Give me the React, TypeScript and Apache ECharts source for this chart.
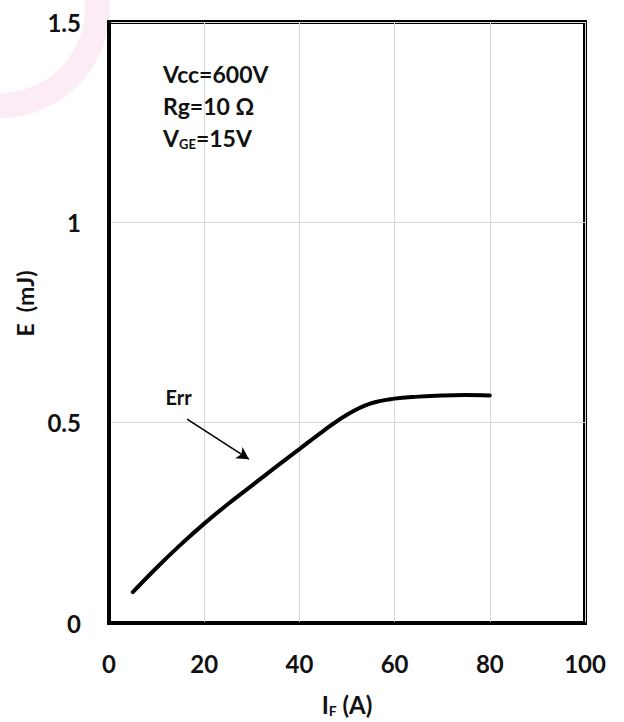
import React, { useEffect, useRef } from "react";
import * as echarts from "echarts";

const currentIF = [5, 10, 15, 20, 25, 30, 35, 40, 45, 50, 55, 60, 65, 70, 75, 80];
const errEnergy = [0.077, 0.138, 0.195, 0.248, 0.297, 0.343, 0.389, 0.434, 0.479, 0.52, 0.548, 0.56, 0.565, 0.568, 0.569, 0.568];
const xTicks = [0, 20, 40, 60, 80, 100];
const yTicks = [0, 0.5, 1, 1.5];
const arrowStart = [16.4, 0.509];
const arrowEnd = [29.4, 0.409];
const errLabelPos = [14.6, 0.564];
const conditions = ["Vcc=600V", "Rg=10 Ω", "VGE=15V"];

const FONT = "Lato, 'Open Sans', 'DejaVu Sans', sans-serif";

export default function App() {
  const ref = useRef<HTMLDivElement>(null);
  useEffect(() => {
    if (!ref.current) return;
    const chart = echarts.init(ref.current, undefined, { renderer: "svg" });
    const seriesData = currentIF.map((x, i) => [x, errEnergy[i]]);
    chart.setOption({
      animation: false,
      backgroundColor: "#ffffff",
      textStyle: { fontFamily: FONT },
      grid: {
        left: 109,
        right: 39,
        top: 22,
        bottom: 99,
        show: true,
        borderColor: "#000",
        borderWidth: 4,
        backgroundColor: "transparent",
      },
      xAxis: {
        type: "value",
        min: xTicks[0],
        max: xTicks[xTicks.length - 1],
        interval: 20,
        name: "{m|I}{s|F}{m| (A)}",
        nameLocation: "middle",
        nameGap: 68,
        nameTextStyle: {
          rich: {
            m: { fontSize: 24, fontWeight: "bold", color: "#111", fontFamily: FONT },
            s: { fontSize: 14, fontWeight: "bold", color: "#111", fontFamily: FONT, verticalAlign: "bottom", padding: [12, 0, 0, 0] },
          },
        },
        axisLine: { show: true, lineStyle: { color: "#000", width: 3 } },
        axisTick: { show: false },
        axisLabel: { margin: 28, fontSize: 24, fontWeight: "bold", color: "#111", fontFamily: FONT },
        splitLine: { show: true, lineStyle: { color: "#d9d9d9", width: 1 } },
      },
      yAxis: {
        type: "value",
        min: yTicks[0],
        max: yTicks[yTicks.length - 1],
        interval: 0.5,
        name: "E  (mJ)",
        nameLocation: "middle",
        nameRotate: 90,
        nameGap: 70,
        nameTextStyle: { fontSize: 23, fontWeight: "bold", color: "#111", fontFamily: FONT, padding: [0, 0, 0, 38] },
        axisLine: { show: true, lineStyle: { color: "#000", width: 3 } },
        axisTick: { show: false },
        axisLabel: { margin: 28, fontSize: 24, fontWeight: "bold", color: "#111", fontFamily: FONT },
        splitLine: { show: true, lineStyle: { color: "#d9d9d9", width: 1 } },
      },
      graphic: [
        {
          type: "ring",
          z: -10,
          silent: true,
          shape: { cx: 0, cy: 8, r: 110, r0: 85 },
          style: { fill: "#fcecf5" },
        },
        {
          type: "text",
          left: 163,
          top: 62,
          z: 10,
          style: {
            text: `{a|${conditions[0]}}\n{a|${conditions[1]}}\n{a|V}{s|GE}{a|=15V}`,
            rich: {
              a: { fontSize: 23, fontWeight: "bold", fill: "#111", fontFamily: FONT, lineHeight: 32 },
              s: { fontSize: 13, fontWeight: "bold", fill: "#111", fontFamily: FONT, lineHeight: 32, padding: [12, 0, 0, 0] },
            },
          },
        },
      ],
      series: [
        {
          type: "line",
          data: seriesData,
          smooth: 0.4,
          showSymbol: false,
          symbol: "none",
          lineStyle: { color: "#000", width: 4, cap: "round" },
          z: 5,
          markLine: {
            silent: true,
            symbol: ["none", "arrow"],
            symbolSize: [10, 12],
            lineStyle: { color: "#000", width: 1.6, type: "solid" },
            label: { show: false },
            data: [[{ coord: arrowStart }, { coord: arrowEnd }]],
          },
          markPoint: {
            silent: true,
            symbol: "circle",
            symbolSize: 0,
            label: {
              show: true,
              position: "inside",
              formatter: "Err",
              fontSize: 20,
              fontWeight: "bold",
              color: "#111",
              fontFamily: FONT,
            },
            data: [{ coord: errLabelPos }],
          },
        },
      ],
    });
    return () => chart.dispose();
  }, []);
  return (
    <div
      ref={ref}
      style={{ position: "fixed", left: 0, top: 0, width: 624, height: 722, background: "#fff" }}
    />
  );
}
